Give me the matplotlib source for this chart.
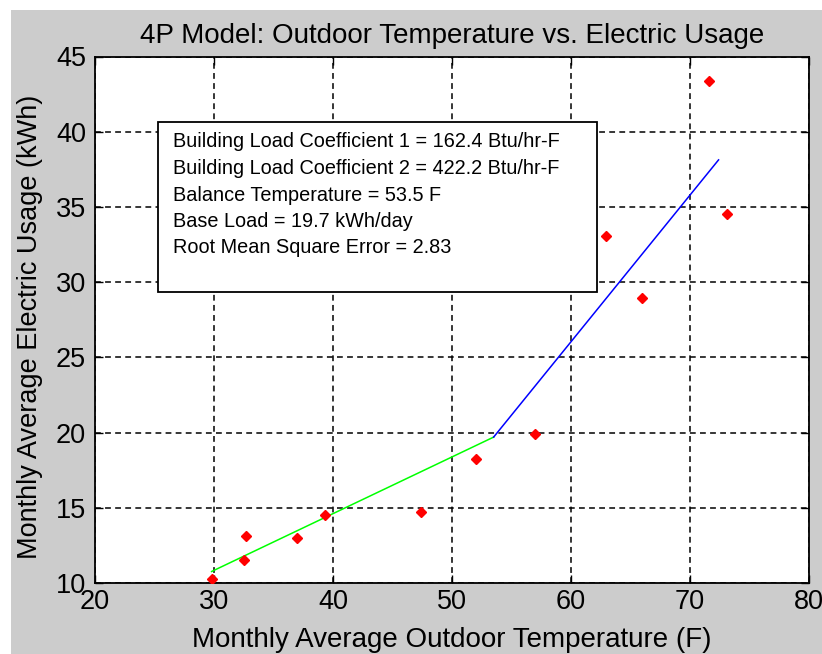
import matplotlib
matplotlib.use("Agg")
import matplotlib.pyplot as plt
from matplotlib.patches import Rectangle
import numpy as np

plt.rcParams['font.family'] = ['Liberation Sans', 'DejaVu Sans']

# Monthly observations
temp_f = [29.8, 32.5, 32.7, 37.0, 39.3, 47.4, 52.0, 57.0, 62.9, 66.0, 71.6, 73.1]
usage_kwh = [10.25, 11.5, 13.1, 13.0, 14.5, 14.75, 18.25, 19.9, 33.1, 28.95, 43.4, 34.5]

# Four-parameter change-point model
balance_temp = 53.5
base_load = 19.7
heating_slope = 0.377
cooling_slope = 0.975
heat_range = [29.8, 53.5]
cool_range = [53.5, 72.4]

xticks = [20, 30, 40, 50, 60, 70, 80]
yticks = [10, 15, 20, 25, 30, 35, 40, 45]

info_lines = [
    "Building Load Coefficient 1 = 162.4 Btu/hr-F",
    "Building Load Coefficient 2 = 422.2 Btu/hr-F",
    "Balance Temperature = 53.5 F",
    "Base Load = 19.7 kWh/day",
    "Root Mean Square Error = 2.83",
]

W, H = 822, 654
fig = plt.figure(figsize=(W / 100, H / 100), dpi=100, facecolor="white")
# grey window background with a thin white margin at top-left
bg = Rectangle((11 / W, 0), 1 - 11 / W, 1 - 10 / H,
               transform=fig.transFigure, facecolor="#cccccc",
               edgecolor="none", zorder=-10)
fig.add_artist(bg)

ax = fig.add_axes([95 / W, (H - 583) / H, (809 - 95) / W, (583 - 56.5) / H])
ax.set_zorder(1)
ax.set_facecolor("white")

xh = np.linspace(heat_range[0], heat_range[1], 50)
yh = base_load - heating_slope * (balance_temp - xh)
xc = np.linspace(cool_range[0], cool_range[1], 50)
yc = base_load + cooling_slope * (xc - balance_temp)

ax.plot(xh, yh, color=(0, 1, 0), lw=1.1, zorder=3)
ax.plot(xc, yc, color=(0, 0, 1), lw=1.1, zorder=3)
ax.plot(temp_f, usage_kwh, linestyle="none", marker="D", markersize=5,
        color="red", markeredgecolor="red", zorder=4)

ax.set_xlim(20, 80)
ax.set_ylim(10, 45)
ax.set_xticks(xticks)
ax.set_yticks(yticks)
ax.grid(True, color="black", linestyle=(0, (3.8, 2.8)), linewidth=1.1)
ax.tick_params(direction="in", top=True, right=True, length=6, width=1,
               labelsize=19.5)
ax.tick_params(axis="x", pad=4.5)
ax.tick_params(axis="y", pad=6.5)
for s in ax.spines.values():
    s.set_linewidth(1.3)

ax.set_title("4P Model: Outdoor Temperature vs. Electric Usage",
             fontsize=20, pad=10)
ax.set_xlabel("Monthly Average Outdoor Temperature (F)", fontsize=20, labelpad=8.5)
ax.set_ylabel("Monthly Average Electric Usage (kWh)", fontsize=19.5, labelpad=9.5)
ax.yaxis.label.set_y(0.487)

# annotation box with fitted parameters
ax.add_patch(Rectangle((0.088, 0.553), 0.615, 0.323, transform=ax.transAxes,
                       facecolor="white", edgecolor="black", lw=1.3, zorder=5))
line_y = [0.838, 0.787, 0.736, 0.687, 0.638]
for txt, yy in zip(info_lines, line_y):
    ax.text(0.109, yy, txt, transform=ax.transAxes, fontsize=14.3,
            va="center", ha="left", zorder=6)

fig.savefig("out.png", dpi=100, facecolor=fig.get_facecolor())
